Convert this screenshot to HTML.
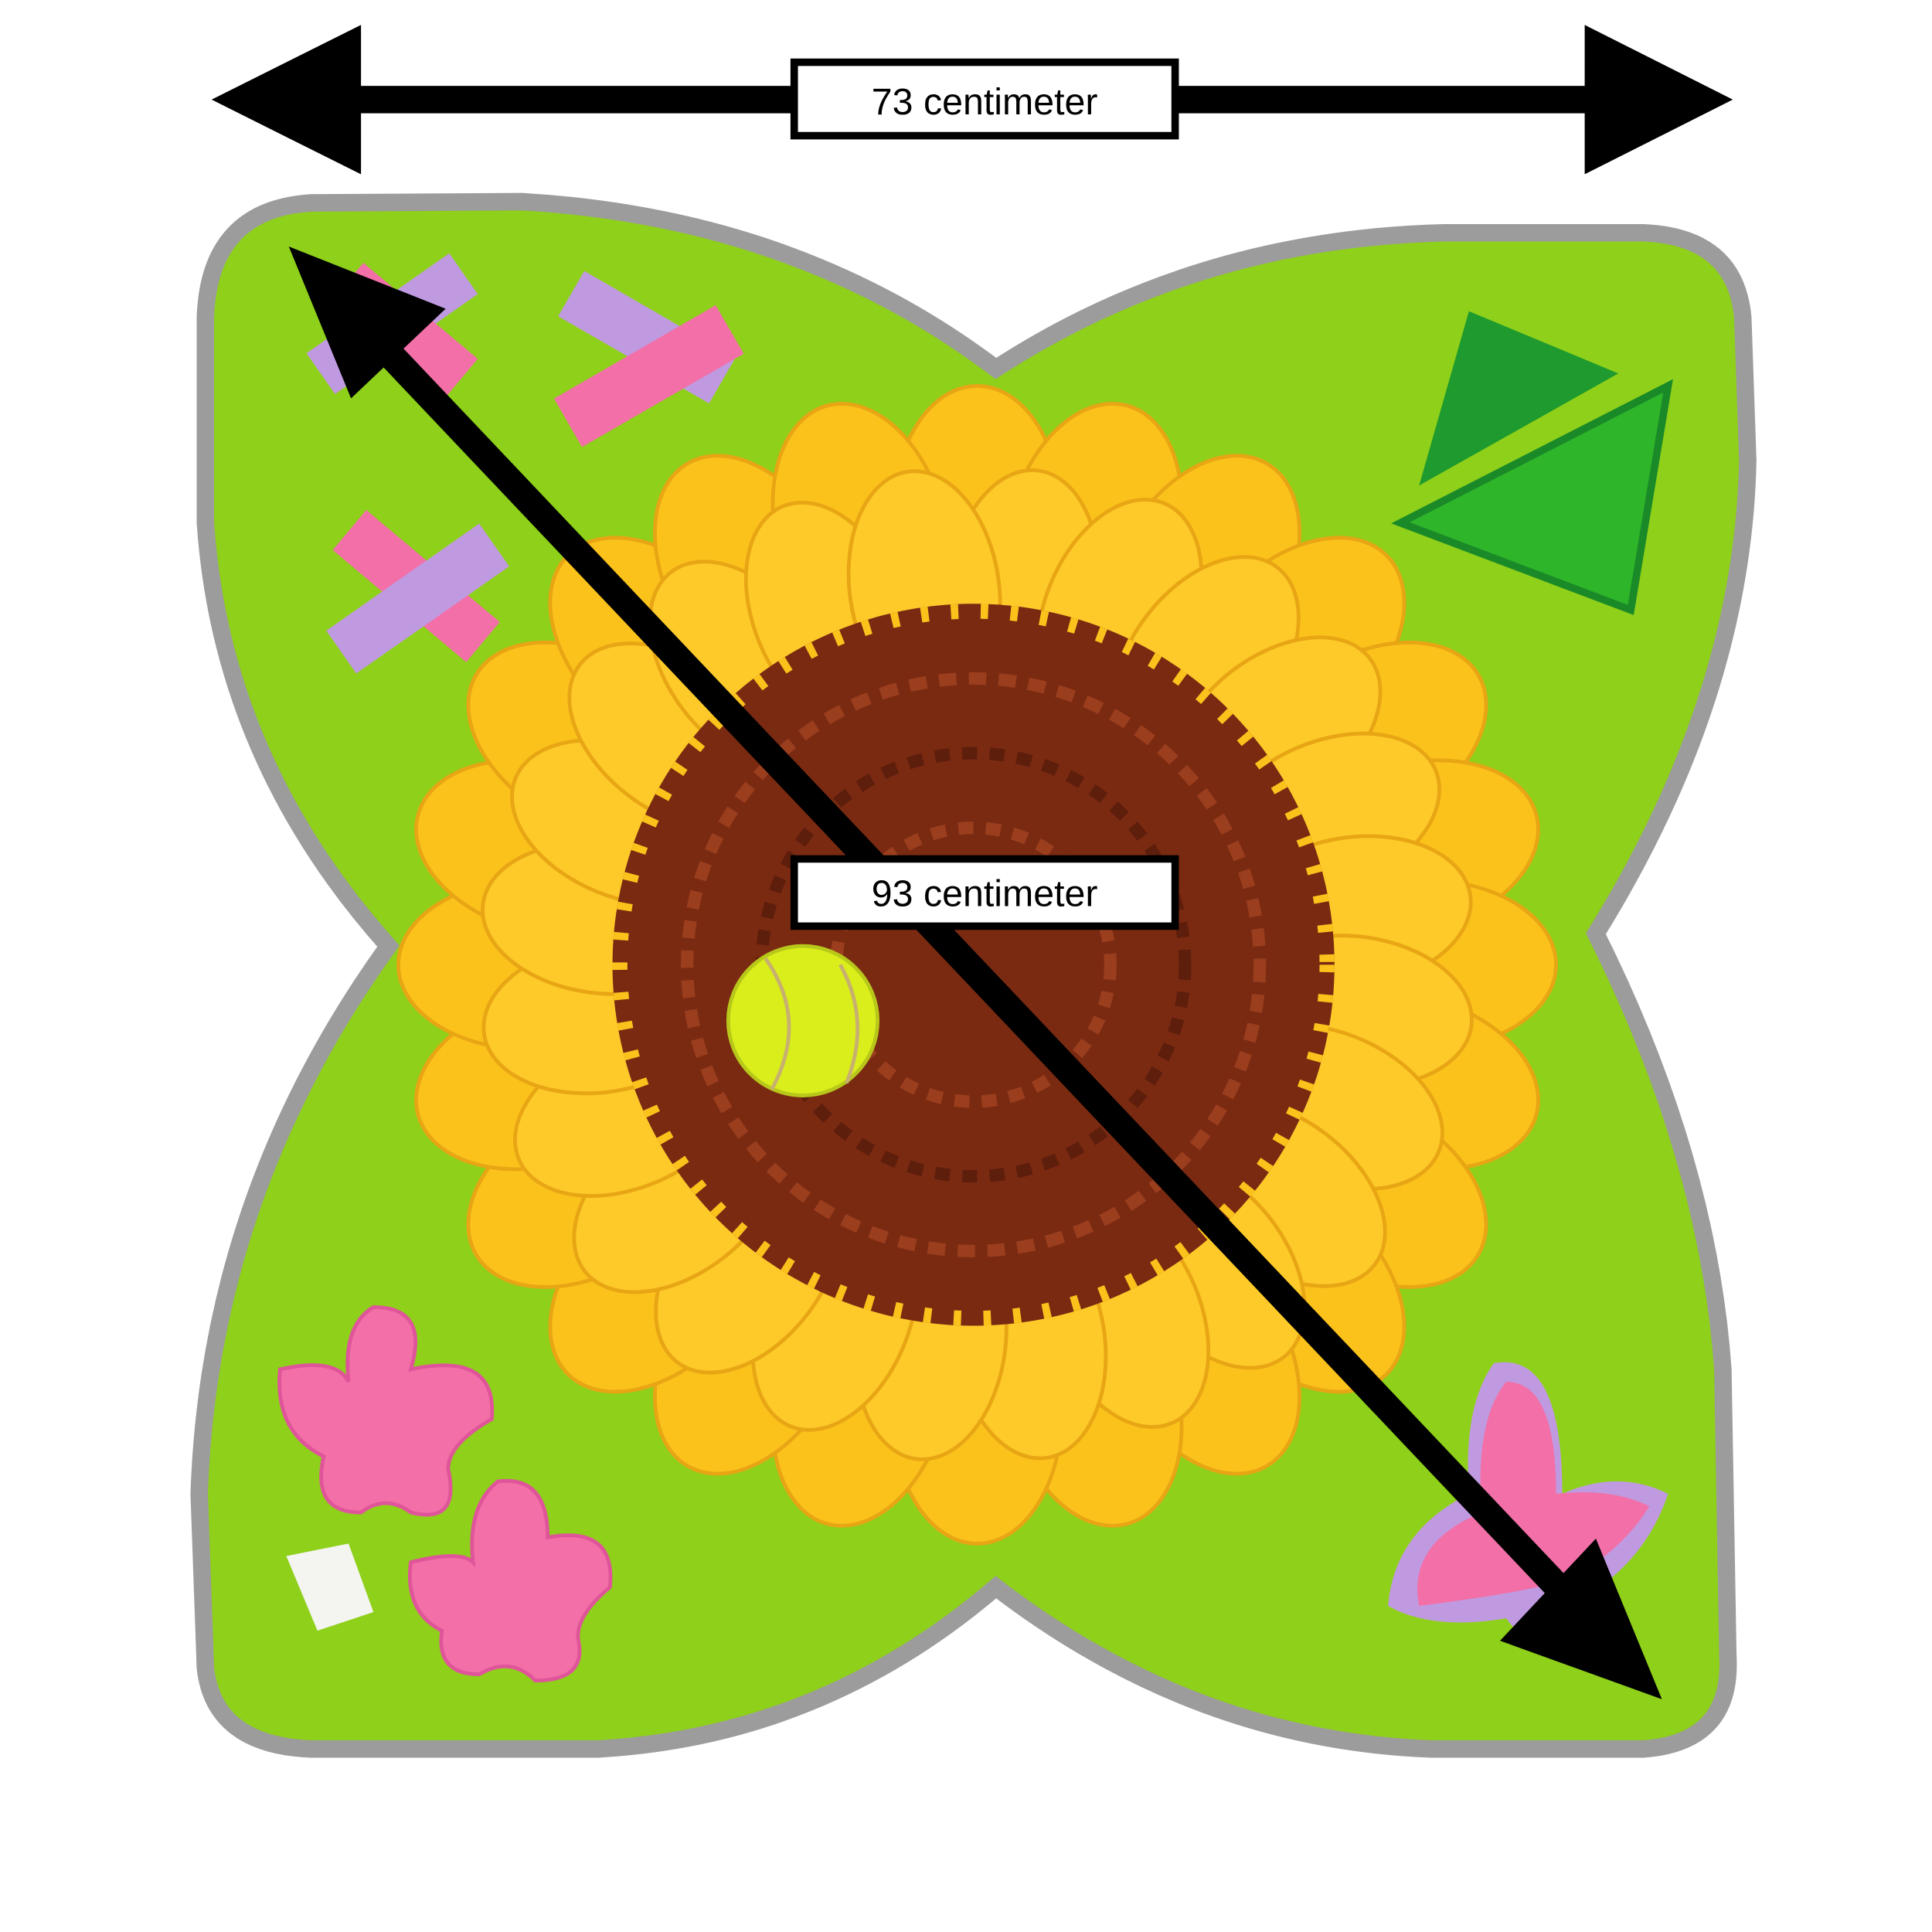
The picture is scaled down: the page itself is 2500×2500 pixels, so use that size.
<!DOCTYPE html>
<html><head><meta charset="utf-8"><style>
html,body{margin:0;padding:0;background:#fff;}
svg{display:block;}
</style></head><body>
<svg width="2500" height="2500" viewBox="0 0 1552 1552" xmlns="http://www.w3.org/2000/svg">
<defs>
<ellipse id="p1" cx="785" cy="415" rx="68" ry="105" fill="#fbc21c" stroke="#e8a514" stroke-width="3"/>
<ellipse id="p2" cx="785" cy="470" rx="60" ry="95" fill="#fdca2a" stroke="#e8a514" stroke-width="3"/>
</defs>
<rect width="1552" height="1552" fill="#fff"/>
<!-- mat -->
<path d="M 250,163 Q 168,168 165,255 L 165,420 Q 178,610 312,760 Q 168,960 160,1200 L 165,1340 Q 172,1402 250,1405 L 480,1405 Q 660,1395 800,1275 Q 960,1398 1150,1405 L 1320,1405 Q 1392,1400 1388,1330 L 1384,1100 Q 1372,930 1282,750 Q 1400,560 1404,370 L 1400,255 Q 1394,190 1320,187 L 1160,187 Q 960,192 800,296 Q 640,175 420,162 Z" fill="#8ed01a" stroke="#9c9c9c" stroke-width="14"/>
<!-- petals -->
<g>
<use href="#p1" transform="rotate(0 785 775)"/><use href="#p1" transform="rotate(15 785 775)"/><use href="#p1" transform="rotate(30 785 775)"/><use href="#p1" transform="rotate(45 785 775)"/><use href="#p1" transform="rotate(60 785 775)"/><use href="#p1" transform="rotate(75 785 775)"/><use href="#p1" transform="rotate(90 785 775)"/><use href="#p1" transform="rotate(105 785 775)"/><use href="#p1" transform="rotate(120 785 775)"/><use href="#p1" transform="rotate(135 785 775)"/><use href="#p1" transform="rotate(150 785 775)"/><use href="#p1" transform="rotate(165 785 775)"/><use href="#p1" transform="rotate(180 785 775)"/><use href="#p1" transform="rotate(195 785 775)"/><use href="#p1" transform="rotate(210 785 775)"/><use href="#p1" transform="rotate(225 785 775)"/><use href="#p1" transform="rotate(240 785 775)"/><use href="#p1" transform="rotate(255 785 775)"/><use href="#p1" transform="rotate(270 785 775)"/><use href="#p1" transform="rotate(285 785 775)"/><use href="#p1" transform="rotate(300 785 775)"/><use href="#p1" transform="rotate(315 785 775)"/><use href="#p1" transform="rotate(330 785 775)"/><use href="#p1" transform="rotate(345 785 775)"/>
<use href="#p2" transform="rotate(7 785 775)"/><use href="#p2" transform="rotate(22 785 775)"/><use href="#p2" transform="rotate(37 785 775)"/><use href="#p2" transform="rotate(52 785 775)"/><use href="#p2" transform="rotate(67 785 775)"/><use href="#p2" transform="rotate(82 785 775)"/><use href="#p2" transform="rotate(97 785 775)"/><use href="#p2" transform="rotate(112 785 775)"/><use href="#p2" transform="rotate(127 785 775)"/><use href="#p2" transform="rotate(142 785 775)"/><use href="#p2" transform="rotate(157 785 775)"/><use href="#p2" transform="rotate(172 785 775)"/><use href="#p2" transform="rotate(187 785 775)"/><use href="#p2" transform="rotate(202 785 775)"/><use href="#p2" transform="rotate(217 785 775)"/><use href="#p2" transform="rotate(232 785 775)"/><use href="#p2" transform="rotate(247 785 775)"/><use href="#p2" transform="rotate(262 785 775)"/><use href="#p2" transform="rotate(277 785 775)"/><use href="#p2" transform="rotate(292 785 775)"/><use href="#p2" transform="rotate(307 785 775)"/><use href="#p2" transform="rotate(322 785 775)"/><use href="#p2" transform="rotate(337 785 775)"/><use href="#p2" transform="rotate(352 785 775)"/>
</g>
<!-- brown center -->
<g>
<circle cx="782" cy="775" r="290" fill="#7b2a12"/>
<circle cx="782" cy="775" r="230" fill="none" stroke="#9a3e1e" stroke-width="10" stroke-dasharray="14 10"/>
<circle cx="782" cy="775" r="170" fill="none" stroke="#5e1e0c" stroke-width="10" stroke-dasharray="12 10"/>
<circle cx="782" cy="775" r="110" fill="none" stroke="#9a3e1e" stroke-width="10" stroke-dasharray="12 10"/>
<circle cx="782" cy="775" r="284" fill="none" stroke="#fbc21c" stroke-width="12" stroke-dasharray="6 18"/>
</g>
<!-- ball -->
<circle cx="645" cy="820" r="60" fill="#d9ee1a" stroke="#b8c81a" stroke-width="3"/>
<path d="M 615,770 Q 650,820 620,875" fill="none" stroke="#c8b070" stroke-width="3"/>
<path d="M 675,775 Q 700,820 680,870" fill="none" stroke="#c8b070" stroke-width="3"/>
<!-- top-left ribbons -->
<g>
<rect x="245" y="240" width="140" height="40" fill="#c09ae0" transform="rotate(-35 315 260)"/>
<rect x="265" y="245" width="120" height="40" fill="#f26fa8" transform="rotate(40 325 265)"/>
<rect x="450" y="250" width="140" height="42" fill="#c09ae0" transform="rotate(30 520 270)"/>
<rect x="445" y="280" width="150" height="45" fill="#f26fa8" transform="rotate(-30 520 300)"/>
<rect x="265" y="450" width="140" height="42" fill="#f26fa8" transform="rotate(40 335 470)"/>
<rect x="260" y="460" width="150" height="42" fill="#c09ae0" transform="rotate(-35 335 480)"/>
</g>
<!-- green triangles -->
<polygon points="1180,250 1300,300 1140,390" fill="#1e9a2e"/>
<polygon points="1125,420 1340,310 1310,490" fill="#2fb52a" stroke="#1a8a28" stroke-width="6"/>
<!-- flowers -->
<g fill="#f26fa8" stroke="#e0559a" stroke-width="3">
<path d="M 300,1050 Q 345,1050 330,1100 Q 400,1085 395,1140 Q 360,1160 360,1180 Q 370,1225 330,1215 Q 310,1200 290,1215 Q 250,1215 260,1170 Q 220,1150 225,1100 Q 270,1090 280,1110 Q 275,1065 300,1050 Z"/>
<path d="M 400,1190 Q 440,1185 440,1235 Q 495,1225 490,1275 Q 460,1300 465,1320 Q 470,1350 430,1350 Q 410,1330 385,1345 Q 350,1345 355,1310 Q 325,1295 330,1255 Q 370,1245 380,1255 Q 375,1210 400,1190 Z"/>
</g>
<polygon points="230,1250 280,1240 300,1295 255,1310" fill="#f4f4f0"/>
<!-- butterfly -->
<path d="M 1200,1095 Q 1255,1085 1255,1200 Q 1300,1180 1340,1200 Q 1320,1260 1260,1290 Q 1230,1330 1210,1300 Q 1150,1310 1115,1290 Q 1120,1230 1180,1200 Q 1175,1130 1200,1095 Z" fill="#c09ae0"/>
<path d="M 1210,1110 Q 1250,1110 1250,1200 Q 1295,1195 1325,1210 Q 1300,1250 1255,1270 Q 1220,1280 1140,1290 Q 1130,1240 1190,1215 Q 1185,1140 1210,1110 Z" fill="#f26fa8"/>
<!-- top arrow -->
<rect x="285" y="69" width="990" height="22" fill="#000"/>
<polygon points="170,80 290,20 290,140" fill="#000"/>
<polygon points="1392,80 1273,20 1273,140" fill="#000"/>
<rect x="638" y="50" width="306" height="59" fill="#fff" stroke="#000" stroke-width="6"/>
<text x="791" y="92" font-family="Liberation Sans, sans-serif" font-size="30" text-anchor="middle" fill="#000">73 centimeter</text>
<!-- diagonal arrow -->
<line x1="290" y1="260" x2="1280" y2="1305" stroke="#000" stroke-width="22"/>
<polygon points="232,198 358,248 282,320" fill="#000"/>
<polygon points="1335,1365 1205,1318 1282,1236" fill="#000"/>
<rect x="638" y="690" width="306" height="54" fill="#fff" stroke="#000" stroke-width="6"/>
<text x="791" y="728" font-family="Liberation Sans, sans-serif" font-size="30" text-anchor="middle" fill="#000">93 centimeter</text>
</svg>
</body></html>
